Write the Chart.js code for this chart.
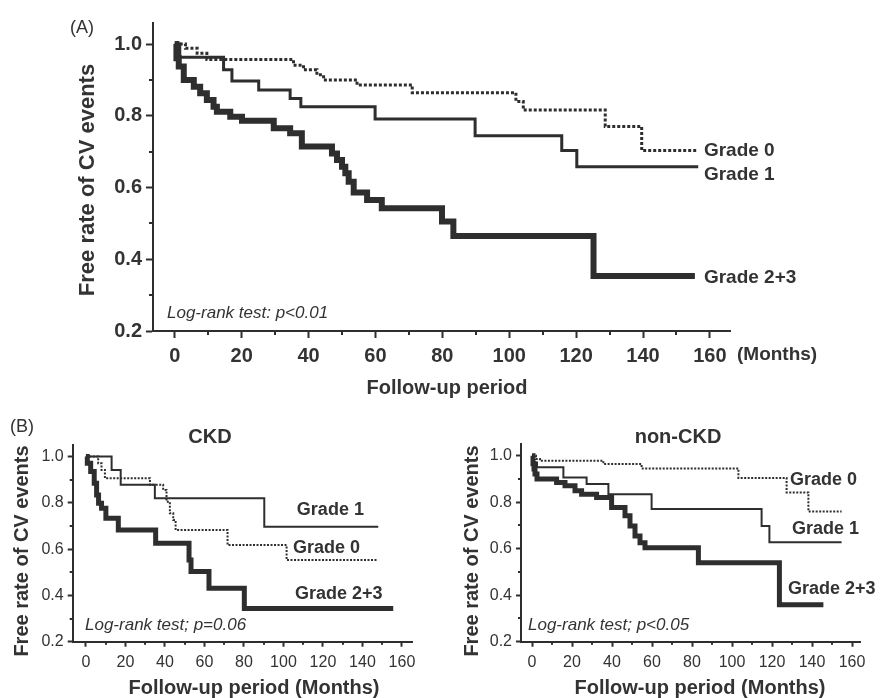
<!DOCTYPE html>
<html>
<head>
<meta charset="utf-8">
<script src="https://cdn.jsdelivr.net/npm/chart.js@4"></script>
<style>
  html, body { margin: 0; padding: 0; background: #fff; }
  #wrap { position: relative; width: 888px; height: 698px; }
  #wrap canvas { position: absolute; left: 0; top: 0; }
</style>
</head>
<body>
<div id="wrap">
  <canvas id="chartA" width="888" height="698"></canvas>
  <canvas id="chartCkd" width="888" height="698"></canvas>
  <canvas id="chartNonCkd" width="888" height="698"></canvas>
</div>
<script>
// Ticks
const xTicks = [0, 20, 40, 60, 80, 100, 120, 140, 160];
const xMinorTicks = [10, 30, 50, 70, 90, 110, 130, 150];
const yTicks = [0.2, 0.4, 0.6, 0.8, 1.0];
const yMinorTicks = [0.3, 0.5, 0.7, 0.9];

// (A) all patients
const aGrade0Time = [0, 3.2, 6.7, 9.6, 35.5, 38.5, 42.5, 44.5, 54.5, 71, 102, 104.2, 128.7, 139.6, 156];
const aGrade0Surv = [1.0, 0.988, 0.974, 0.957, 0.941, 0.928, 0.914, 0.90, 0.886, 0.864, 0.84, 0.816, 0.77, 0.703, 0.703];
const aGrade1Time = [0, 1.5, 14.6, 17.1, 25.1, 34.5, 37.7, 59.9, 89.8, 115.7, 120.2, 156.5];
const aGrade1Surv = [1.0, 0.963, 0.928, 0.897, 0.872, 0.848, 0.825, 0.791, 0.744, 0.703, 0.658, 0.658];
const aGrade23Time = [0, 0.5, 1.2, 2.7, 5.7, 7.6, 9.6, 11.6, 12.6, 16.6, 20.1, 29.6, 34.5, 38, 47, 48.5, 50, 51, 52, 53.5, 57.5, 61.9, 79.9, 83.3, 125.2, 155.5];
const aGrade23Surv = [1.0, 0.96, 0.937, 0.90, 0.881, 0.863, 0.844, 0.825, 0.811, 0.797, 0.786, 0.765, 0.751, 0.714, 0.695, 0.677, 0.658, 0.64, 0.616, 0.586, 0.565, 0.542, 0.505, 0.465, 0.353, 0.353];

// (B) CKD
const ckdGrade0Time = [0, 6.2, 7.9, 9.6, 32.4, 39.1, 40.8, 42.5, 44.2, 45.4, 71.7, 101.6, 147.2];
const ckdGrade0Surv = [1.0, 0.971, 0.942, 0.906, 0.878, 0.856, 0.805, 0.755, 0.726, 0.683, 0.618, 0.553, 0.553];
const ckdGrade1Time = [0, 13, 17.6, 34.9, 90.3, 148];
const ckdGrade1Surv = [1.0, 0.942, 0.878, 0.82, 0.697, 0.697];
const ckdGrade23Time = [0, 0.7, 2.4, 4.2, 5.4, 6.4, 7.9, 10.1, 16.4, 35.3, 52.2, 53.2, 62.3, 80.2, 155.6];
const ckdGrade23Surv = [1.0, 0.971, 0.935, 0.885, 0.834, 0.798, 0.777, 0.734, 0.683, 0.625, 0.553, 0.503, 0.431, 0.344, 0.344];

// (B) non-CKD
const nonGrade0Time = [0, 2, 4, 35.7, 54.8, 103.2, 127.3, 138.2, 154.8];
const nonGrade0Surv = [1.0, 0.986, 0.978, 0.964, 0.945, 0.904, 0.842, 0.76, 0.76];
const nonGrade1Time = [0, 1, 2.5, 15.7, 27.3, 38.2, 59.8, 114.8, 118.7, 154.8];
const nonGrade1Surv = [1.0, 0.97, 0.95, 0.906, 0.878, 0.834, 0.77, 0.697, 0.628, 0.628];
const nonGrade23Time = [0, 0.5, 1, 1.5, 2.5, 12.3, 16.5, 21.5, 24.8, 32.3, 39.8, 46.5, 49, 51.5, 54, 56.5, 83.2, 123.7, 145.7];
const nonGrade23Surv = [1.0, 0.965, 0.942, 0.921, 0.899, 0.885, 0.87, 0.849, 0.834, 0.82, 0.777, 0.741, 0.697, 0.654, 0.625, 0.604, 0.539, 0.359, 0.359];

const ink = '#2e2e2e';
const textInk = '#333';
const FONT = 'Liberation Sans, Arial, sans-serif';

function toPoints(times, surv) {
  return times.map((t, i) => ({ x: t, y: surv[i] }));
}

// draws minor ticks and all the free text of a panel
const kmDeco = {
  id: 'kmDeco',
  afterDraw(chart, args, opts) {
    const ctx = chart.ctx;
    const xs = chart.scales.x, ys = chart.scales.y;
    const area = chart.chartArea;
    ctx.save();
    ctx.strokeStyle = ink;
    ctx.lineWidth = 2;
    ctx.beginPath();
    xMinorTicks.forEach(v => {
      const px = Math.round(xs.getPixelForValue(v));
      ctx.moveTo(px, area.bottom);
      ctx.lineTo(px, area.bottom + opts.minorLen);
    });
    yMinorTicks.forEach(v => {
      const py = Math.round(ys.getPixelForValue(v));
      ctx.moveTo(area.left, py);
      ctx.lineTo(area.left - opts.minorLen, py);
    });
    ctx.stroke();

    ctx.fillStyle = textInk;
    (opts.texts || []).forEach(t => {
      let x = t.x, y = t.y;
      if (t.data) {
        x = xs.getPixelForValue(t.x);
        y = ys.getPixelForValue(t.y);
      }
      ctx.save();
      ctx.translate(x, y);
      if (t.rotate) ctx.rotate(t.rotate);
      ctx.font = t.font;
      ctx.textAlign = t.align || 'left';
      ctx.textBaseline = 'middle';
      ctx.fillText(t.text, 0, 0);
      ctx.restore();
    });
    ctx.restore();
  }
};

function makeKmChart(id, p) {
  const yWidth = 60, xHeight = 40;
  return new Chart(document.getElementById(id), {
    type: 'line',
    data: {
      datasets: [
        { data: toPoints(p.g23[0], p.g23[1]), borderColor: ink, borderWidth: p.wThick, stepped: true, pointRadius: 0, borderJoinStyle: 'miter' },
        { data: toPoints(p.g1[0], p.g1[1]), borderColor: ink, borderWidth: p.wThin, stepped: true, pointRadius: 0, borderJoinStyle: 'miter' },
        { data: toPoints(p.g0[0], p.g0[1]), borderColor: ink, borderWidth: p.wDot, borderDash: p.dash, stepped: true, pointRadius: 0 }
      ]
    },
    options: {
      responsive: false,
      animation: false,
      events: [],
      layout: {
        padding: {
          left: p.area.left - yWidth,
          top: p.area.top,
          right: 888 - p.area.right,
          bottom: 698 - p.area.bottom - xHeight
        }
      },
      plugins: {
        legend: { display: false },
        tooltip: { enabled: false },
        kmDeco: { minorLen: p.minorLen, texts: p.texts }
      },
      scales: {
        x: {
          type: 'linear',
          min: p.xMin, max: p.xMax,
          afterBuildTicks: s => { s.ticks = xTicks.map(v => ({ value: v })); },
          afterFit: s => { s.height = xHeight; },
          ticks: { font: p.tickFont, color: textInk, padding: p.xPad, maxRotation: 0, autoSkip: false },
          grid: { drawOnChartArea: false, tickLength: p.tickLen, tickWidth: 2, tickColor: ink },
          border: { color: ink, width: 2 }
        },
        y: {
          type: 'linear',
          min: 0.2, max: p.yMax,
          afterBuildTicks: s => { s.ticks = yTicks.map(v => ({ value: v })); },
          afterFit: s => { s.width = yWidth; },
          ticks: { font: p.tickFont, color: textInk, padding: p.yPad, callback: v => v.toFixed(1) },
          grid: { drawOnChartArea: false, tickLength: p.tickLen, tickWidth: 2, tickColor: ink },
          border: { color: ink, width: 2 }
        }
      }
    },
    plugins: [kmDeco]
  });
}

const labelA = 'bold 19px ' + FONT;
const labelB = 'bold 18px ' + FONT;

makeKmChart('chartA', {
  area: { left: 153, top: 22.5, right: 730, bottom: 331 },
  xMin: -6.5, xMax: 166, yMax: 1.06,
  g0: [aGrade0Time, aGrade0Surv], g1: [aGrade1Time, aGrade1Surv], g23: [aGrade23Time, aGrade23Surv],
  wThick: 6, wThin: 3, wDot: 3, dash: [3, 2],
  tickFont: { family: FONT, size: 20, weight: 'bold' },
  tickLen: 7, minorLen: 4, xPad: 6, yPad: 4,
  texts: [
    { text: '(A)', x: 70, y: 28, font: '18px ' + FONT },
    { text: 'Free rate of CV events', x: 88, y: 180, rotate: -Math.PI / 2, align: 'center', font: 'bold 22px ' + FONT },
    { text: 'Follow-up period', x: 447, y: 388, align: 'center', font: 'bold 20px ' + FONT },
    { text: '(Months)', x: 737, y: 355, font: 'bold 19px ' + FONT },
    { text: 'Log-rank test: p<0.01', x: 167, y: 313, font: 'italic 17px ' + FONT },
    { text: 'Grade 0', data: true, x: 158.2, y: 0.703, font: labelA },
    { text: 'Grade 1', data: true, x: 158.2, y: 0.635, font: labelA },
    { text: 'Grade 2+3', data: true, x: 158.2, y: 0.348, font: labelA }
  ]
});

makeKmChart('chartCkd', {
  area: { left: 72.7, top: 445, right: 413, bottom: 641.7 },
  xMin: -6.7, xMax: 165.6, yMax: 1.05,
  g0: [ckdGrade0Time, ckdGrade0Surv], g1: [ckdGrade1Time, ckdGrade1Surv], g23: [ckdGrade23Time, ckdGrade23Surv],
  wThick: 5, wThin: 2, wDot: 2, dash: [2, 1.5],
  tickFont: { family: FONT, size: 16 },
  tickLen: 5, minorLen: 3, xPad: 6, yPad: 4,
  texts: [
    { text: '(B)', x: 10, y: 427, font: '18px ' + FONT },
    { text: 'CKD', x: 210, y: 437, align: 'center', font: 'bold 20px ' + FONT },
    { text: 'Free rate of CV events', x: 22, y: 551, rotate: -Math.PI / 2, align: 'center', font: 'bold 20px ' + FONT },
    { text: 'Follow-up period (Months)', x: 254, y: 688, align: 'center', font: 'bold 20px ' + FONT },
    { text: 'Log-rank test; p=0.06', x: 85, y: 625, font: 'italic 17px ' + FONT },
    { text: 'Grade 1', data: true, x: 106.8, y: 0.77, font: labelB },
    { text: 'Grade 0', data: true, x: 104.8, y: 0.605, font: labelB },
    { text: 'Grade 2+3', data: true, x: 105.8, y: 0.406, font: labelB }
  ]
});

makeKmChart('chartNonCkd', {
  area: { left: 521, top: 444, right: 860, bottom: 641.7 },
  xMin: -5.5, xMax: 164, yMax: 1.05,
  g0: [nonGrade0Time, nonGrade0Surv], g1: [nonGrade1Time, nonGrade1Surv], g23: [nonGrade23Time, nonGrade23Surv],
  wThick: 5, wThin: 2, wDot: 2, dash: [2, 1.5],
  tickFont: { family: FONT, size: 16 },
  tickLen: 5, minorLen: 3, xPad: 6, yPad: 4,
  texts: [
    { text: 'non-CKD', x: 678, y: 437, align: 'center', font: 'bold 20px ' + FONT },
    { text: 'Free rate of CV events', x: 472, y: 551, rotate: -Math.PI / 2, align: 'center', font: 'bold 20px ' + FONT },
    { text: 'Follow-up period (Months)', x: 700, y: 688, align: 'center', font: 'bold 20px ' + FONT },
    { text: 'Log-rank test; p<0.05', x: 528, y: 625, font: 'italic 17px ' + FONT },
    { text: 'Grade 0', data: true, x: 129, y: 0.895, font: labelB },
    { text: 'Grade 1', data: true, x: 130, y: 0.683, font: labelB },
    { text: 'Grade 2+3', data: true, x: 128, y: 0.428, font: labelB }
  ]
});
</script>
</body>
</html>
